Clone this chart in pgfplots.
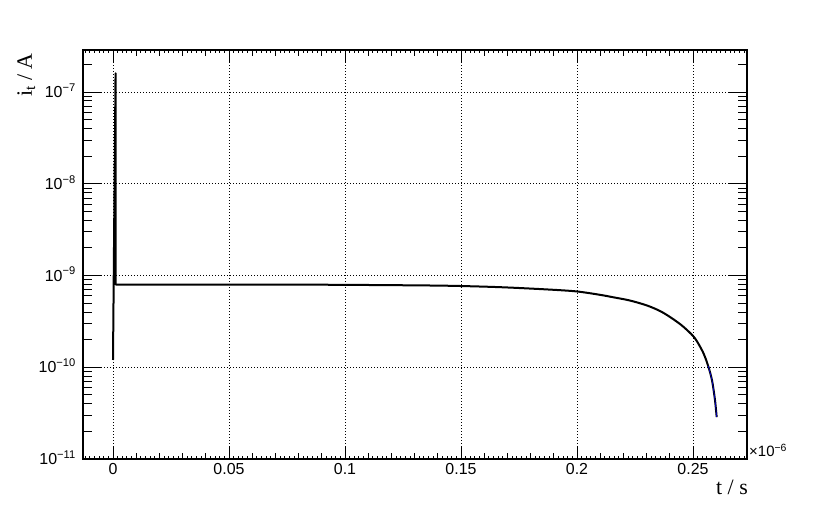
\documentclass[border=0pt]{standalone}
\usepackage{fontspec}
\setmainfont{Liberation Sans}
\newfontfamily\timesfont{Liberation Serif}
\usepackage{pgfplots}
\pgfplotsset{compat=1.18}

\newcommand\tickfont{\fontsize{16}{19}\selectfont}

\pgfplotsset{
  every axis/.append style={
    axis line style={line width=1.1bp},
    every tick/.style={black, line width=0.9bp},
    grid style={black, line width=0.7bp, dash pattern=on 1bp off 2bp},
  }
}

\begin{document}
\begin{tikzpicture}[x=1bp,y=1bp]
\path (-83,-51) rectangle (747,459);

% x ticks and vertical grid
\begin{axis}[
  width=664bp, height=409bp, scale only axis,
  xmin=-0.01293, xmax=0.27328, ymin=0, ymax=1,
  tick align=inside, tick pos=both, xticklabel pos=lower,
  ytick=\empty,
  xtick={0,0.05,0.1,0.15,0.2,0.25},
  xticklabels={0,0.05,0.1,0.15,0.2,0.25},
  minor x tick num=4,
  major tick length=12bp, minor tick length=6bp,
  xmajorgrids,
  extra x ticks={-0.012,-0.01,...,0.272},
  extra x tick labels={},
  extra x tick style={major tick length=3bp, grid=none},
  xticklabel style={font=\tickfont, inner sep=0pt, yshift=-4bp},
]
\end{axis}

% y ticks, horizontal grid and the current
\begin{axis}[name=A,
  width=664bp, height=409bp, scale only axis,
  xmin=-0.01293, xmax=0.27328,
  ymode=log, ymin=1e-11, ymax=2.87e-7,
  tick align=inside, tick pos=both, yticklabel pos=left,
  xtick=\empty,
  ytick={1e-11,1e-10,1e-9,1e-8,1e-7},
  yticklabels={10\textsuperscript{−11},10\textsuperscript{−10},10\textsuperscript{−9},10\textsuperscript{−8},10\textsuperscript{−7}},
  minor ytick={2e-11,3e-11,4e-11,5e-11,6e-11,7e-11,8e-11,9e-11,
               2e-10,3e-10,4e-10,5e-10,6e-10,7e-10,8e-10,9e-10,
               2e-9,3e-9,4e-9,5e-9,6e-9,7e-9,8e-9,9e-9,
               2e-8,3e-8,4e-8,5e-8,6e-8,7e-8,8e-8,9e-8,2e-7},
  major tick length=18bp, minor tick length=9bp,
  ymajorgrids,
  yticklabel style={font=\tickfont, inner sep=0pt, anchor=base east, xshift=-7bp, yshift=-5.5bp},
]
% initial spike
\addplot[black, line width=2bp, line join=round] coordinates {
  (0,1.2e-10) (0.0011,1.6e-7) (0.0011,8.0e-10) (0.0013,7.98e-10)
};
% plateau and decay
\addplot[black, line width=2bp, smooth, tension=0.5] coordinates {
  (0.0013,7.98e-10) (0.04,7.98e-10) (0.08,7.96e-10) (0.12,7.85e-10)
  (0.145,7.73e-10) (0.167,7.46e-10) (0.188,7.03e-10) (0.2,6.70e-10)
  (0.2099,6.16e-10) (0.2155,5.80e-10) (0.2228,5.34e-10) (0.2302,4.71e-10)
  (0.2358,4.10e-10) (0.2401,3.53e-10) (0.2444,2.96e-10) (0.2474,2.55e-10)
  (0.2509,2.06e-10) (0.2543,1.46e-10) (0.2565,1.04e-10) (0.2582,7.18e-11)
  (0.2595,4.34e-11) (0.2602,2.86e-11)
};
\addplot[blue, line width=0.5bp, smooth, tension=0.5] coordinates {
  (0.2565,1.04e-10) (0.2582,7.18e-11) (0.2595,4.34e-11) (0.2602,2.86e-11)
};
\end{axis}

\node[rotate=90, anchor=base east, inner sep=0pt, font=\timesfont\fontsize{22}{26}\selectfont]
  at ([xshift=-51bp,yshift=-3bp]A.north west) {i\textsubscript{t} / A};
\node[anchor=base east, inner sep=0pt, font=\timesfont\fontsize{22}{26}\selectfont]
  at ([xshift=1bp,yshift=-36bp]A.south east) {t / s};
\node[anchor=base west, inner sep=0pt, font=\fontsize{15}{18}\selectfont]
  at ([xshift=2bp,yshift=2bp]A.south east) {×10\textsuperscript{−6}};
\end{tikzpicture}
\end{document}
